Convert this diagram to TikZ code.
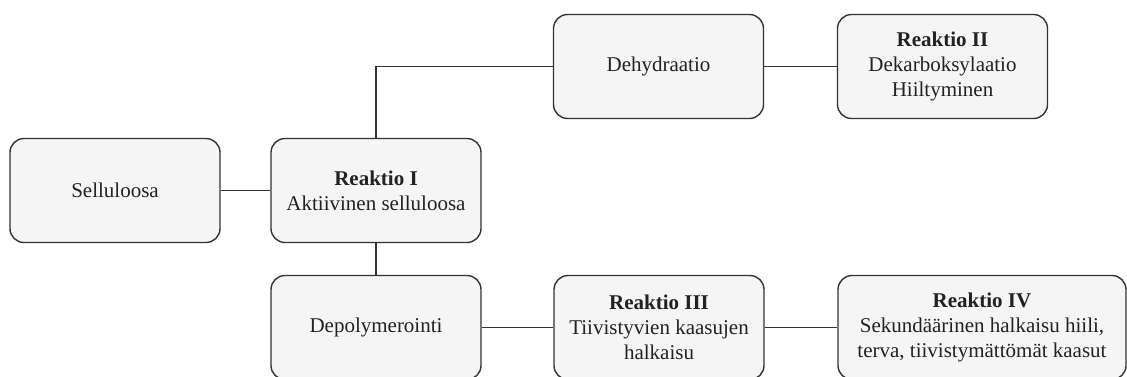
\documentclass[tikz,border=0pt]{standalone}
\usepackage{fontspec}
\setmainfont{Liberation Serif}
\definecolor{boxline}{HTML}{333333}
\definecolor{boxfill}{HTML}{F5F5F5}
\definecolor{txt}{HTML}{222222}
\begin{document}
\begin{tikzpicture}[x=1pt,y=-1pt,
  box/.style={draw=boxline, fill=boxfill, line width=1.4pt, rounded corners=14pt,
    minimum width=210pt, minimum height=104pt, align=center, inner sep=0pt,
    text=txt, font=\fontsize{21}{25}\selectfont},
  link/.style={draw=boxline, line width=1.4pt}]
\useasboundingbox (0,0) rectangle (1127,376);
\node[box] (sel) at (115,190.5) {Selluloosa};
\node[box] (r1) at (376,190.5) {\textbf{Reaktio I}\\Aktiivinen selluloosa};
\node[box] (deh) at (658.5,66.5) {Dehydraatio};
\node[box] (r2) at (942.5,66.5) {\textbf{Reaktio II}\\Dekarboksylaatio\\Hiiltyminen};
\node[box] (dep) at (376,327.5) {Depolymerointi};
\node[box] (r3) at (659,327.5) {\textbf{Reaktio III}\\Tiivistyvien kaasujen\\halkaisu};
\node[box, minimum width=288pt] (r4) at (982,327.5) {\textbf{Reaktio IV}\\Sekundäärinen halkaisu hiili,\\terva, tiivistymättömät kaasut};
\draw[link] (sel.east) -- (r1.west);
\draw[link] (r1.north) |- (deh.west);
\draw[link] (deh.east) -- (r2.west);
\draw[link] (r1.south) -- (dep.north);
\draw[link] (dep.east) -- (r3.west);
\draw[link] (r3.east) -- (r4.west);
\end{tikzpicture}
\end{document}
